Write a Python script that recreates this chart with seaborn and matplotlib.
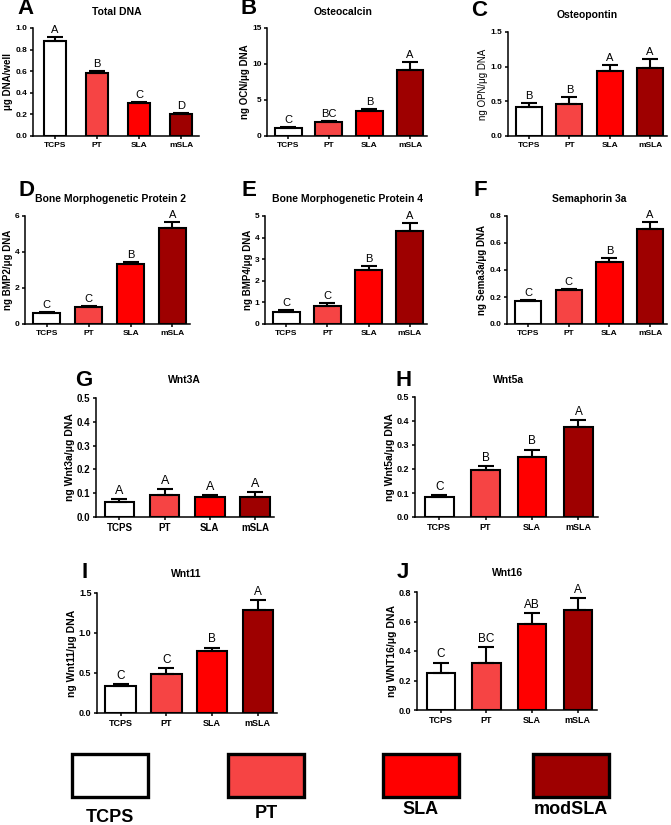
import numpy as np
import pandas as pd
import matplotlib
matplotlib.use("Agg")
import matplotlib.pyplot as plt
from matplotlib.patches import Rectangle
import seaborn as sns

# ---------------- data ----------------
groups = ["TCPS", "PT", "SLA", "mSLA"]
colors = ["#FFFFFF", "#F64444", "#FF0000", "#9E0000"]
legend_labels = ["TCPS", "PT", "SLA", "modSLA"]

dna_mean = [0.88, 0.58, 0.305, 0.20]
dna_err = [0.04, 0.02, 0.012, 0.012]
dna_sig = ["A", "B", "C", "D"]

ocn_mean = [1.1, 1.95, 3.5, 9.2]
ocn_err = [0.12, 0.12, 0.3, 1.1]
ocn_sig = ["C", "BC", "B", "A"]

opn_mean = [0.42, 0.46, 0.935, 0.98]
opn_err = [0.05, 0.105, 0.095, 0.13]
opn_sig = ["B", "B", "A", "A"]

bmp2_mean = [0.6, 0.93, 3.33, 5.31]
bmp2_err = [0.04, 0.06, 0.12, 0.37]
bmp2_sig = ["C", "C", "B", "A"]

bmp4_mean = [0.54, 0.85, 2.5, 4.32]
bmp4_err = [0.11, 0.13, 0.19, 0.37]
bmp4_sig = ["C", "C", "B", "A"]

sema_mean = [0.17, 0.25, 0.46, 0.70]
sema_err = [0.007, 0.007, 0.027, 0.058]
sema_sig = ["C", "C", "B", "A"]

wnt3a_mean = [0.064, 0.093, 0.082, 0.086]
wnt3a_err = [0.01, 0.025, 0.01, 0.018]
wnt3a_sig = ["A", "A", "A", "A"]

wnt5a_mean = [0.084, 0.197, 0.252, 0.376]
wnt5a_err = [0.006, 0.016, 0.029, 0.028]
wnt5a_sig = ["C", "B", "B", "A"]

wnt11_mean = [0.335, 0.49, 0.77, 1.29]
wnt11_err = [0.022, 0.07, 0.048, 0.125]
wnt11_sig = ["C", "C", "B", "A"]

wnt16_mean = [0.248, 0.316, 0.586, 0.676]
wnt16_err = [0.074, 0.108, 0.074, 0.084]
wnt16_sig = ["C", "BC", "AB", "A"]

# ---------------- style ----------------
sns.set_style("ticks")
plt.rcParams["font.family"] = ["Liberation Sans", "DejaVu Sans"]
plt.rcParams["axes.linewidth"] = 1.1
for k in ["text.color", "axes.labelcolor", "xtick.color", "ytick.color", "axes.edgecolor"]:
    plt.rcParams[k] = "black"

W, H = 671, 825
fig = plt.figure(figsize=(W / 100, H / 100), dpi=100)

def frac_rect(l, r, t, b):
    return [l / W, 1 - b / H, (r - l) / W, (b - t) / H]

panels = [
    # letter, title, ylabel, mean, err, sig, ymax, step, (l,r,t,b), bar width,
    # letter pos, title pos, tick size, ylabel size, ylabel weight, sig size
    ("A", "Total DNA", "\u03bcg DNA/well", dna_mean, dna_err, dna_sig, 1.0, 0.2,
     (33, 199, 28, 136), 0.52, (26, 9), (117, 12), 6, 7, "bold", 8),
    ("B", "Osteocalcin", "ng OCN/\u03bcg DNA", ocn_mean, ocn_err, ocn_sig, 15, 5,
     (267, 427, 28, 136), 0.66, (249, 9), (343, 12), 6, 7, "bold", 8),
    ("C", "Osteopontin", "ng OPN/\u03bcg DNA", opn_mean, opn_err, opn_sig, 1.5, 0.5,
     (508, 667, 32, 136), 0.65, (479, 10), (587, 15), 6, 7, "normal", 8),
    ("D", "Bone Morphogenetic Protein 2", "ng BMP2/\u03bcg DNA", bmp2_mean, bmp2_err, bmp2_sig, 6, 2,
     (25, 190, 216, 324), 0.65, (26, 191), (111, 199), 6, 7, "bold", 8),
    ("E", "Bone Morphogenetic Protein 4", "ng BMP4/\u03bcg DNA", bmp4_mean, bmp4_err, bmp4_sig, 5, 1,
     (265, 427, 216, 324), 0.66, (249, 191), (348, 199), 6, 7, "bold", 8),
    ("F", "Semaphorin 3a", "ng Sema3a/\u03bcg DNA", sema_mean, sema_err, sema_sig, 0.8, 0.2,
     (507, 667, 216, 324), 0.65, (480, 191), (589, 199), 6, 7, "bold", 8),
    ("G", "Wnt3A", "ng Wnt3a/\u03bcg DNA", wnt3a_mean, wnt3a_err, wnt3a_sig, 0.5, 0.1,
     (96, 274, 398, 517), 0.65, (84, 380), (184, 380), 7, 7.5, "bold", 9),
    ("H", "Wnt5a", "ng Wnt5a/\u03bcg DNA", wnt5a_mean, wnt5a_err, wnt5a_sig, 0.5, 0.1,
     (415, 598, 397, 517), 0.62, (404, 380), (509, 380), 6.5, 7.5, "bold", 8.5),
    ("I", "Wnt11", "ng Wnt11/\u03bcg DNA", wnt11_mean, wnt11_err, wnt11_sig, 1.5, 0.5,
     (97, 277, 593, 713), 0.67, (85, 572), (186, 574), 6.5, 7.5, "bold", 8.5),
    ("J", "Wnt16", "ng WNT16/\u03bcg DNA", wnt16_mean, wnt16_err, wnt16_sig, 0.8, 0.2,
     (417, 597, 592, 710), 0.62, (403, 572), (508, 573), 6.5, 7.5, "bold", 8.5),
]

pal = dict(zip(groups, colors))

for (let, title, ylab, mean, err, sig, ymax, step, rect, bw, lpos, tpos,
     tsize, ysize, yweight, ssize) in panels:
    ax = fig.add_axes(frac_rect(*rect))
    df = pd.DataFrame({"group": groups, "value": mean})
    sns.barplot(data=df, x="group", y="value", hue="group", palette=pal,
                legend=False, ax=ax, width=bw, edgecolor="black",
                linewidth=1.5, saturation=1, errorbar=None)
    xs = np.arange(len(groups))
    ax.errorbar(xs, mean, yerr=[np.zeros(len(mean)), err], fmt="none",
                ecolor="black", elinewidth=1.5, capsize=6, capthick=1.5, zorder=4)
    for x, m, e, s in zip(xs, mean, err, sig):
        ax.annotate(s, (x, m + e), xytext=(0, 1.5), textcoords="offset points",
                    ha="center", va="bottom", fontsize=ssize)
    ax.set_xlim(-0.52, 3.42)
    ax.set_ylim(0, ymax)
    ticks = np.arange(0, ymax + step / 2, step)
    ax.set_yticks(ticks)
    if float(step).is_integer():
        ax.set_yticklabels([f"{t:.0f}" for t in ticks])
    else:
        ax.set_yticklabels([f"{t:.1f}" for t in ticks])
    ax.set_xlabel("")
    ax.set_ylabel(ylab, fontsize=ysize, fontweight=yweight, labelpad=1.5)
    ax.tick_params(axis="both", length=2.5, width=1.1, labelsize=tsize, pad=1.5)
    for lab in ax.get_xticklabels() + ax.get_yticklabels():
        lab.set_fontweight("bold")
    sns.despine(ax=ax)
    fig.text(lpos[0] / W, 1 - lpos[1] / H, let, fontsize=16, fontweight="bold",
             ha="center", va="center")
    fig.text(tpos[0] / W, 1 - tpos[1] / H, title, fontsize=7.5, fontweight="bold",
             ha="center", va="center")

# ---------------- legend ----------------
box_left = [72, 228, 383, 533]
box_w, box_top, box_bot = 76, 754, 797
label_y = [817, 813, 809, 810]
for bl, col, lab, ly in zip(box_left, colors, legend_labels, label_y):
    fig.add_artist(Rectangle((bl / W, 1 - box_bot / H), box_w / W, (box_bot - box_top) / H,
                             transform=fig.transFigure, facecolor=col,
                             edgecolor="black", linewidth=2.4))
    fig.text((bl + box_w / 2) / W, 1 - ly / H, lab, fontsize=13, fontweight="bold",
             ha="center", va="center")

fig.savefig("out.png", dpi=100)
